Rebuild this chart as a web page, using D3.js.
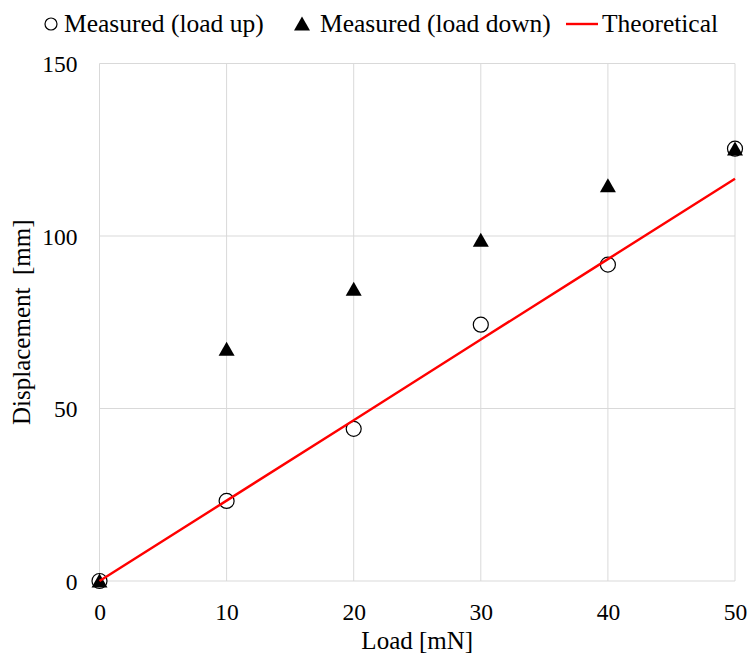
<!DOCTYPE html>
<html lang="en">
<head>
<meta charset="UTF-8">
<title>Load vs Displacement</title>
<style>
  body { margin: 0; background: #fff; }
  text { font-family: "Liberation Serif", "Times New Roman", serif; }
</style>
</head>
<body>
<script src="https://d3js.org/d3.v7.min.js"></script>
<div id="svg"></div>
<script>
// data
var loads = [0, 10, 20, 30, 40, 50];
var loadUp = [0, 23.2, 44.1, 74.3, 91.7, 125.3];
var loadDown = [0, 67.2, 84.6, 98.8, 114.6, 125.2];
var theoretical = [0, 23.3, 46.6, 70.0, 93.3, 116.6];
var xTicks = [0, 10, 20, 30, 40, 50];
var yTicks = [0, 50, 100, 150];

const width = 750, height = 657;
const padding = { top: 63.5, left: 99.5, right: 15, bottom: 76 };

const svg = d3.select("#svg").append("svg").attr("width", width).attr("height", height);

const xScale = d3.scaleLinear().domain([0, 50]).range([padding.left, width - padding.right]);
const yScale = d3.scaleLinear().domain([0, 150]).range([height - padding.bottom, padding.top]);

// gridlines
svg.append("g").selectAll("line").data(xTicks).enter().append("line")
  .attr("x1", d => xScale(d)).attr("x2", d => xScale(d))
  .attr("y1", yScale(0)).attr("y2", yScale(150))
  .attr("stroke", "#d9d9d9").attr("stroke-width", 1);
svg.append("g").selectAll("line").data(yTicks).enter().append("line")
  .attr("x1", xScale(0)).attr("x2", xScale(50))
  .attr("y1", d => yScale(d)).attr("y2", d => yScale(d))
  .attr("stroke", "#d9d9d9").attr("stroke-width", 1);

// axes (labels only)
const xAxis = d3.axisBottom(xScale).tickValues(xTicks).tickSize(0).tickPadding(22);
const yAxis = d3.axisLeft(yScale).tickValues(yTicks).tickSize(0).tickPadding(22);
const gx = svg.append("g").attr("transform", `translate(0,${yScale(0)})`).call(xAxis);
const gy = svg.append("g").attr("transform", `translate(${xScale(0)},0)`).call(yAxis);
[gx, gy].forEach(g => {
  g.select(".domain").remove();
  g.selectAll("text").style("font-family", "Liberation Serif").style("font-size", "23.5px").attr("fill", "#000");
});
gy.selectAll("text").attr("dy", "0.35em");

// axis titles
svg.append("text").attr("x", (xScale(0) + xScale(50)) / 2).attr("y", 649)
  .attr("text-anchor", "middle").style("font-size", "25px").text("Load [mN]");
svg.append("text").attr("transform", `translate(30,${(yScale(0) + yScale(150)) / 2}) rotate(-90)`)
  .attr("text-anchor", "middle").style("font-size", "25px").style("white-space", "pre")
  .attr("xml:space", "preserve").text("Displacement  [mm]");

// markers
const tri = "M0,-7.5L8,6.5L-8,6.5Z";
svg.append("g").selectAll("circle").data(loads).enter().append("circle")
  .attr("cx", d => xScale(d)).attr("cy", (d, i) => yScale(loadUp[i])).attr("r", 7.5)
  .attr("fill", "#fff").attr("stroke", "#000").attr("stroke-width", 1.2);
svg.append("g").selectAll("path").data(loads).enter().append("path")
  .attr("d", tri).attr("transform", (d, i) => `translate(${xScale(d)},${yScale(loadDown[i])})`)
  .attr("fill", "#000");

// theoretical line
const line = d3.line().x((d, i) => xScale(loads[i])).y(d => yScale(d));
svg.append("path").attr("d", line(theoretical)).attr("fill", "none")
  .attr("stroke", "#ff0000").attr("stroke-width", 2.4);

// legend
const legend = svg.append("g");
legend.append("circle").attr("cx", 51).attr("cy", 24).attr("r", 6)
  .attr("fill", "#fff").attr("stroke", "#000").attr("stroke-width", 1.2);
legend.append("text").attr("x", 64).attr("y", 32).style("font-size", "25.5px").text("Measured (load up)");
legend.append("path").attr("d", tri).attr("transform", "translate(302,24)").attr("fill", "#000");
legend.append("text").attr("x", 320).attr("y", 32).style("font-size", "25.5px").text("Measured (load down)");
legend.append("line").attr("x1", 566).attr("x2", 598).attr("y1", 24).attr("y2", 24)
  .attr("stroke", "#ff0000").attr("stroke-width", 2.4);
legend.append("text").attr("x", 602).attr("y", 32).style("font-size", "25.5px").text("Theoretical");
</script>
</body>
</html>
